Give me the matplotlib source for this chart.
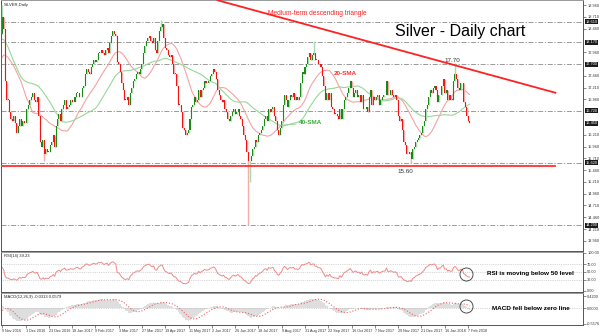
import numpy as np
import pandas as pd
import matplotlib
matplotlib.use('Agg')
import matplotlib.pyplot as plt
from matplotlib.transforms import blended_transform_factory

plt.rcParams['font.family'] = ['Liberation Sans', 'DejaVu Sans']

# daily closes before the first visible bar (warm-up for the moving averages / RSI / MACD)
pre_close = [19.05, 19.00, 18.95, 19.20, 19.30, 19.80, 19.75, 19.70, 19.50, 19.10,
             19.15, 19.05, 19.20, 18.90, 17.75, 17.60, 17.40, 17.25, 17.55, 17.15,
             17.20, 17.50, 17.40, 17.40, 17.50, 17.55, 17.45, 17.50, 17.55, 17.65,
             17.65, 17.70, 17.85, 17.75, 18.30, 18.40, 18.35, 18.40, 18.05, 18.35]

# visible daily closes, 9 Nov 2016 -> 8 Feb 2018 (16 bars per row = one date label step)
close = [
    18.70, 18.45, 17.35, 16.95, 16.95, 16.70, 16.55, 16.50, 16.60, 16.45, 16.25, 16.40, 16.55, 16.40, 16.50, 16.45,
    16.45, 16.75, 16.85, 16.95, 17.00, 17.10, 16.95, 16.90, 17.00, 16.60, 16.05, 15.95, 16.10, 15.80, 15.90, 15.85,
    15.85, 16.00, 16.05, 16.20, 15.95, 16.40, 16.55, 16.65, 16.50, 16.75, 16.85, 16.95, 16.75, 16.80, 16.85, 16.95,
    16.90, 16.90, 17.00, 17.10, 17.10, 17.00, 17.00, 17.20, 17.25, 17.50, 17.60, 17.55, 17.50, 17.65, 17.70, 17.80,
    17.75, 17.80, 17.95, 17.95, 18.00, 17.95, 17.90, 18.00, 18.05, 17.95, 18.15, 18.30, 18.40, 18.35, 18.30, 17.75,
    17.70, 17.55, 17.30, 17.15, 16.95, 16.95, 17.00, 16.85, 17.10, 17.20, 17.35, 17.40, 17.50, 17.55, 17.50, 17.60,
    17.70, 17.95, 18.10, 18.20, 18.25, 18.30, 18.20, 18.15, 18.25, 18.00, 17.95, 18.20, 18.40, 18.50, 18.55, 18.25,
    18.05, 18.00, 17.90, 17.85, 17.90, 17.70, 17.50, 17.50, 17.25, 16.85, 16.85, 16.70, 16.35, 16.30, 16.20, 16.25,
    16.30, 16.55, 16.80, 16.85, 17.00, 16.90, 16.95, 17.15, 17.00, 17.15, 17.20, 17.35, 17.30, 17.30, 17.35, 17.45,
    17.50, 17.60, 17.55, 17.40, 17.15, 17.05, 16.95, 16.90, 16.95, 16.75, 16.70, 16.55, 16.50, 16.60, 16.70, 16.75,
    16.65, 16.70, 16.75, 16.60, 16.55, 16.40, 16.20, 16.10, 15.85, 15.65, 15.65, 15.75, 15.90, 15.95, 16.10, 16.05,
    16.20, 16.25, 16.30, 16.40, 16.55, 16.60, 16.50, 16.75, 16.70, 16.75, 16.80, 16.60, 16.50, 16.30, 16.20, 16.35,
    16.50, 16.85, 17.05, 16.95, 16.80, 16.95, 17.05, 17.00, 17.10, 16.95, 17.00, 16.95, 17.00, 17.30, 17.55, 17.50,
    17.65, 17.70, 17.85, 17.95, 17.80, 17.90, 17.95, 17.80, 17.80, 17.70, 17.70, 17.65, 17.45, 17.25, 16.95, 17.10,
    16.95, 17.10, 16.80, 16.75, 16.65, 16.65, 16.60, 16.55, 16.75, 16.55, 16.75, 16.95, 17.00, 17.10, 17.20, 17.35,
    17.20, 17.00, 17.10, 17.15, 17.00, 17.05, 16.90, 17.05, 16.75, 16.75, 16.80, 16.70, 17.00, 17.15, 16.85, 17.00,
    16.95, 17.00, 17.05, 16.85, 16.95, 17.00, 17.05, 17.05, 17.35, 17.05, 17.05, 17.15, 17.05, 17.00, 17.05, 16.95,
    16.60, 16.50, 16.55, 16.30, 16.05, 16.00, 15.80, 15.80, 15.85, 15.70, 15.90, 15.95, 16.05, 16.10, 16.15, 16.20,
    16.25, 16.40, 16.50, 16.75, 16.85, 17.00, 17.15, 17.10, 17.20, 17.25, 17.15, 16.90, 17.05, 17.05, 17.25, 17.40,
    17.10, 17.15, 16.95, 17.05, 16.95, 16.95, 17.35, 17.50, 17.40, 17.20, 17.15, 17.30, 17.30, 16.90, 16.80, 16.60,
    16.50, 16.45,
]

# wicks that stand out (bar index -> price)
wick_high = {0: 18.95, 109: 18.65, 214: 18.20, 311: 17.72}
wick_low = {29: 15.66, 169: 14.30, 170: 15.20, 281: 15.62}

date_labels = ['9 Nov 2016', '1 Dec 2016', '23 Dec 2016', '18 Jan 2017', '9 Feb 2017',
               '3 Mar 2017', '27 Mar 2017', '19 Apr 2017', '11 May 2017', '2 Jun 2017',
               '26 Jun 2017', '18 Jul 2017', '9 Aug 2017', '31 Aug 2017', '22 Sep 2017',
               '16 Oct 2017', '7 Nov 2017', '29 Nov 2017', '21 Dec 2017', '16 Jan 2018',
               '7 Feb 2018']
price_ticks = [13.96, 14.21, 14.46, 14.71, 14.96, 15.21, 15.46, 15.71, 15.96, 16.21,
               16.96, 17.21, 17.46, 17.96, 18.46, 18.71, 18.96]
level_lines = [18.61, 18.17, 17.70, 16.72, 15.62, 14.29]
last_price = 16.45
support_level = 15.54
support_x = [-1, 380]
trend_x = [148, 380]
trend_y = [19.06, 17.10]

# indicators
s = pd.Series(pre_close + close)
n_pre = len(pre_close)
sma20 = s.rolling(20).mean().to_numpy()[n_pre:]
sma40 = s.rolling(40).mean().to_numpy()[n_pre:]
delta = s.diff()
gain = delta.clip(lower=0).ewm(alpha=1 / 14, adjust=False).mean()
loss = (-delta.clip(upper=0)).ewm(alpha=1 / 14, adjust=False).mean()
rsi = (100 - 100 / (1 + gain / loss)).to_numpy()[n_pre:]
macd = s.ewm(span=12, adjust=False).mean() - s.ewm(span=26, adjust=False).mean()
signal = macd.rolling(9).mean().to_numpy()[n_pre:]
macd = macd.to_numpy()[n_pre:]

c = np.array(close)
o = s.shift(1).to_numpy()[n_pre:]
hi = np.maximum(o, c)
lo = np.minimum(o, c)
for k, v in wick_high.items():
    hi[k] = v
for k, v in wick_low.items():
    lo[k] = v
x = np.arange(len(c))
up = c >= o

fig = plt.figure(figsize=(6, 3.36), dpi=100)
fig.patch.set_facecolor('white')
ax = fig.add_axes([0.002, 0.253, 0.9697, 0.747])
ax_rsi = fig.add_axes([0.002, 0.131, 0.9697, 0.119])
ax_macd = fig.add_axes([0.002, 0.0327, 0.9697, 0.095])

xlim = (-0.7, 399)
for a in (ax, ax_rsi, ax_macd):
    a.set_xlim(*xlim)
    for sp in a.spines.values():
        sp.set_color('#555555')
        sp.set_linewidth(0.7)
    a.spines['top'].set_color('#999999')
    a.yaxis.tick_right()
    a.tick_params(axis='y', labelsize=2.8, length=2, width=0.4, pad=1, colors='#333333')

# ---- main price panel
ax.set_ylim(13.745, 19.066)
for lv in level_lines:
    ax.axhline(lv, color='#8a8a8a', lw=0.6, dashes=(6, 2, 1.5, 2), zorder=1)
ax.plot(support_x, [support_level, support_level], color='#ff3030', lw=1.3, zorder=4)
ax.plot(trend_x, trend_y, color='#ff2020', lw=1.3, zorder=4)

ax.plot(x, sma20, color='#f4a3a3', lw=0.8, zorder=2)
ax.plot(x, sma40, color='#98d898', lw=0.8, zorder=2)

ax.vlines(x[up], lo[up], hi[up], color='#a8dca8', lw=1.0, zorder=3)
ax.vlines(x[~up], lo[~up], hi[~up], color='#f7abab', lw=1.0, zorder=3)
body = c - o
body = np.where(np.abs(body) < 0.01, 0.01, body)
ax.bar(x[up], body[up], bottom=o[up], width=0.7, color='#1a8a1a', linewidth=0, zorder=3)
ax.bar(x[~up], body[~up], bottom=o[~up], width=0.7, color='#f01414', linewidth=0, zorder=3)

ax.set_yticks(price_ticks)
ax.set_yticklabels([f'{v:.3f}' for v in price_ticks])
ax.set_xticks([])
tr = blended_transform_factory(ax.transAxes, ax.transData)
for lv in level_lines + [last_price]:
    ax.text(1.004, lv, f'{lv:.3f}', transform=tr, fontsize=2.8, color='white', va='center',
            ha='left', clip_on=False, zorder=10,
            bbox=dict(boxstyle='square,pad=0.15', fc='#1a1a1a', ec='none'))

ax.text(0.004, 0.988, 'SILVER,Daily', transform=ax.transAxes, fontsize=3, va='top', color='#222222')
ax.text(0.677, 0.876, 'Silver - Daily chart', transform=ax.transAxes, fontsize=11.5,
        va='center', ha='left', color='black')
ax.text(0.544, 0.948, 'Medium-term descending triangle', transform=ax.transAxes, fontsize=4.8,
        va='center', ha='center', color='#ff2020')
ax.text(0.592, 0.709, '20-SMA', transform=ax.transAxes, fontsize=4.6, fontweight='bold',
        va='center', ha='center', color='#ff3030')
ax.annotate('40-SMA', xy=(191, 16.41), xytext=(0.532, 0.51), textcoords='axes fraction',
            fontsize=4.6, fontweight='bold', va='center', ha='center', color='#3aa83a',
            arrowprops=dict(arrowstyle='-', color='#8fd08f', lw=0.6, shrinkA=0, shrinkB=0))
ax.text(309, 17.74, '17.70', fontsize=4.5, color='#333333', ha='center', va='bottom')
ax.text(277, 15.48, '15.60', fontsize=4.5, color='#333333', ha='center', va='top')

# ---- RSI panel
ax_rsi.set_ylim(-2.6, 102.6)
for lv in (30, 50, 70):
    ax_rsi.axhline(lv, color='#b0b0b0', lw=0.5, ls=':')
ax_rsi.plot(x, rsi, color='#f28888', lw=0.7)
ax_rsi.set_yticks([0, 30, 50, 70, 100])
ax_rsi.set_yticklabels(['0.00', '30.00', '50.00', '70.00', '100.00'])
ax_rsi.set_xticks([])
ax_rsi.text(0.004, 0.95, 'RSI(14) 39.23', transform=ax_rsi.transAxes, fontsize=3, va='top', color='#222222')
ax_rsi.text(0.91, 0.46, 'RSI is moving below 50 level', transform=ax_rsi.transAxes, fontsize=4.6,
            fontweight='bold', ha='center', va='center', color='black')
ax_rsi.plot([318.7], [45], marker='o', ms=9.4, mfc='none', mec='#333333', mew=0.6)

# ---- MACD panel
ax_macd.set_ylim(-0.595, 0.525)
ax_macd.bar(x, macd, width=1.0, color='#dedede', linewidth=0)
ax_macd.axhline(0, color='#b0b0b0', lw=0.5, ls=':')
ax_macd.plot(x, signal, color='#f06060', lw=0.8, ls=':')
ax_macd.set_yticks([0.42, 0.0, -0.5576])
ax_macd.set_yticklabels(['0.4200', '0.0000', '-0.5576'])
ax_macd.text(0.004, 0.95, 'MACD(12,26,9) -0.0313 0.0579', transform=ax_macd.transAxes, fontsize=3,
             va='top', color='#222222')
ax_macd.text(0.91, 0.52, 'MACD fell below zero line', transform=ax_macd.transAxes, fontsize=4.6,
             fontweight='bold', ha='center', va='center', color='black')
ax_macd.plot([318.7], [0.07], marker='o', ms=9.4, mfc='none', mec='#333333', mew=0.6)
ax_macd.set_xticks(np.arange(0, 321, 16))
ax_macd.set_xticklabels(date_labels)
ax_macd.tick_params(axis='x', labelsize=2.7, length=2, width=0.4, pad=1, colors='#333333')
for lab in ax_macd.get_xticklabels():
    lab.set_ha('left')

fig.savefig('out.png', dpi=100)
